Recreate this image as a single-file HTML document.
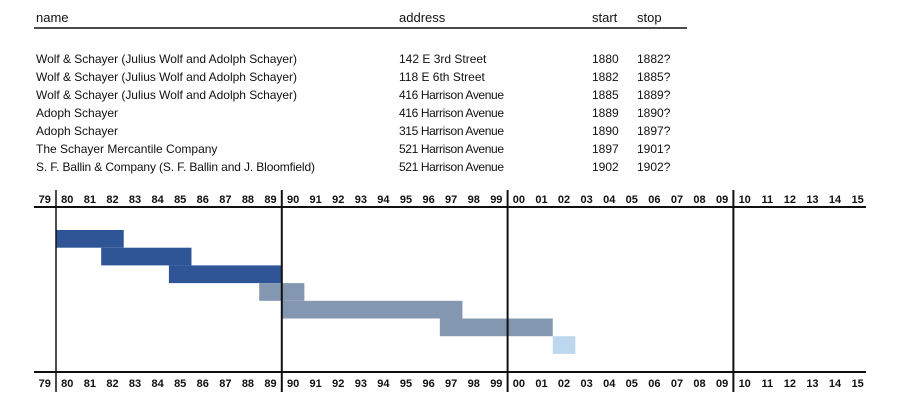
<!DOCTYPE html>
<html><head><meta charset="utf-8"><style>
html,body{margin:0;padding:0;background:#fff;}
svg{display:block;font-family:"Liberation Sans",sans-serif;}
.tb{font-size:12px;fill:#111;}
.ax{font-size:11px;font-weight:bold;fill:#111;}
</style></head><body>
<svg id="chart" width="900" height="402" viewBox="0 0 900 402">
<g id="table"></g>
<g id="bars"></g>
<g id="axes"></g>
</svg>
<script>
const names = ["Wolf & Schayer (Julius Wolf and Adolph Schayer)","Wolf & Schayer (Julius Wolf and Adolph Schayer)","Wolf & Schayer (Julius Wolf and Adolph Schayer)","Adoph Schayer","Adoph Schayer","The Schayer Mercantile Company","S. F. Ballin & Company (S. F. Ballin and J. Bloomfield)"];
const addresses = ["142 E 3rd Street","118 E 6th Street","416 Harrison Avenue","416 Harrison Avenue","315 Harrison Avenue","521 Harrison Avenue","521 Harrison Avenue"];
const startYears = [1880,1882,1885,1889,1890,1897,1902];
const stopYears = [1882,1885,1889,1890,1897,1901,1902];
const stopLabels = ["1882?","1885?","1889?","1890?","1897?","1901?","1902?"];
const groups = [0,0,0,1,1,1,2];
const tickYears = [];
for (let y = 1879; y <= 1915; y++) tickYears.push(y);
const decadeYears = [1880,1890,1900,1910];

const NS = "http://www.w3.org/2000/svg";
function mk(tag, attrs, parent){const e=document.createElementNS(NS,tag);for(const k in attrs)e.setAttribute(k,attrs[k]);parent.appendChild(e);return e;}
const x = yr => 56 + (yr - 1880) * 22.58;
const rowY = i => 230 + i * 17.7;
const rowH = 17.7;
const colors = ["#2f5597","#8497b0","#bdd7ee"];

const table = document.getElementById('table');
const hdr = [["name",36],["address",399],["start",592],["stop",637]];
hdr.forEach(h=>{
  const t = mk('text',{x:h[1],y:22,class:'tb'},table);
  
  
  t.style.fontSize='13px';
  t.textContent=h[0];
});
const hl = mk('line',{x1:34,x2:687,y1:28,y2:28,stroke:'#111','stroke-width':1.6},table);


names.forEach((n,i)=>{
  const y = 63 + i*18;
  const t1 = mk('text',{x:36,y:y,class:'tb'},table);
  
  
  t1.textContent = n;
  const t2 = mk('text',{x:399,y:y,class:'tb'},table);
  
  
  t2.textContent = addresses[i];
  const t3 = mk('text',{x:592,y:y,class:'tb'},table);
  
  
  t3.textContent = startYears[i];
  const t4 = mk('text',{x:637,y:y,class:'tb'},table);
  
  
  t4.textContent = stopLabels[i];
});
// fit name widths
document.querySelectorAll('#table text').forEach(t=>{
  const w=t.getComputedTextLength();
  const s=t.textContent;
  if(s.indexOf('Wolf & Schayer')===0 && w>262) t.setAttribute('textLength',261);
  if(s.indexOf('S. F. Ballin')===0 && w>280) t.setAttribute('textLength',279);
  if(s.indexOf('Harrison')>0 && w>106) t.setAttribute('textLength',105);
});

const bars = document.getElementById('bars');
startYears.forEach((s,i)=>{
  const r = mk('rect',{x:x(s),y:rowY(i),width:x(stopYears[i]+1)-x(s),height:rowH,fill:colors[groups[i]]},bars);
  
  
});

const axes = document.getElementById('axes');
[207,372].forEach((ly,k)=>{
  const l = mk('line',{x1:34,x2:866,y1:ly,y2:ly,stroke:'#111','stroke-width':2},axes);
  
  
});
decadeYears.forEach(d=>{
  const l = mk('line',{x1:x(d),x2:x(d),y1:190,y2:392,stroke:'#111','stroke-width':d===1880?1.5:2},axes);
  
  
});
tickYears.forEach(yr=>{
  const lab = String(yr%100).padStart(2,'0');
  [203,387].forEach((ty,k)=>{
    const t = mk('text',{x:x(yr)+11.3,y:ty,class:'ax','text-anchor':'middle'},axes);
    
    
    t.textContent = lab;
  });
});
</script>
</body></html>
